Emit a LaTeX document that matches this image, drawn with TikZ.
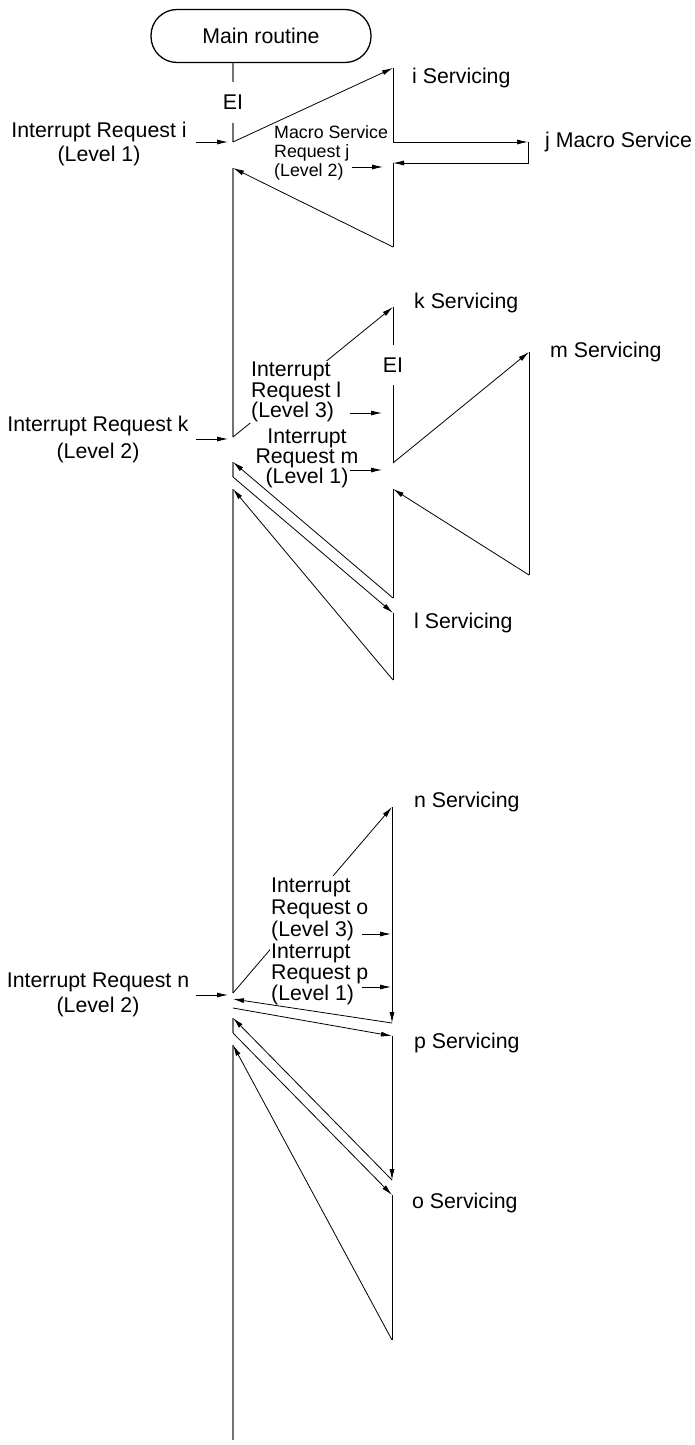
\documentclass[tikz,border=0pt]{standalone}
\usepackage{fontspec}
\setmainfont{Liberation Sans}
\usetikzlibrary{arrows.meta,positioning}

\begin{document}
\begin{tikzpicture}[
  x=1pt, y=-1pt,
  >={Latex[length=11pt,width=5pt]},
  lbl/.style={font=\fontsize{21.3}{24}\selectfont, inner sep=1pt},
  svc/.style={lbl, anchor=west},
  req/.style={lbl, align=center},
  cut/.style={lbl, align=left, anchor=west, fill=white},
  ei/.style={lbl, minimum height=40pt, inner sep=0pt},
  mainline/.style={draw=black!55, line width=1.4pt},
  flow/.style={draw=black, line width=0.8pt}
]
\useasboundingbox (0,0) rectangle (694,1445);

% Main routine
\node[lbl, draw, line width=1.3pt, rounded corners=26pt, minimum width=220pt, minimum height=53pt] (mainbox) at (261,36) {Main routine};
\node[ei] (ei1) at (233,102.5) {EI};

% Points on the main line
\coordinate (ma1) at (233,142);
\coordinate (ma2) at (233,168);
\coordinate (mk1) at (233,437);
\coordinate (mk2) at (233,462);
\coordinate (mk3) at (233,477);
\coordinate (mk4) at (233,489);
\coordinate (mn1) at (233,993);
\coordinate (mn2) at (233,999);
\coordinate (mn3) at (233,1008);
\coordinate (mn4) at (233,1018);
\coordinate (mn5) at (233,1033);
\coordinate (mn6) at (233,1045);
\coordinate (mend) at (233,1440);

% Servicing points
\coordinate (is1) at (393,68);
\coordinate (is2) at (393,142);
\coordinate (jr) at (528,142);
\coordinate (jr2) at (528,163);
\coordinate (is3) at (393,163);
\coordinate (is4) at (393,247);
\coordinate (ks1) at (393,307);
\coordinate (ks2) at (393,463);
\coordinate (ks3) at (393,489);
\coordinate (ks4) at (393,598);
\coordinate (ms1) at (529,352);
\coordinate (ms2) at (529,575);
\coordinate (ls1) at (393,613);
\coordinate (ls2) at (393,680);
\coordinate (ns1) at (392,807);
\coordinate (ns2) at (392,1023);
\coordinate (ps1) at (392,1036);
\coordinate (ps2) at (392,1180);
\coordinate (os1) at (392,1195);
\coordinate (os2) at (392,1340);
\node[ei] (ei2) at (393,365) {EI};

% Request arrow starts
\coordinate (ri) at (196,142);
\coordinate (rj) at (352,167);
\coordinate (rk) at (196,439);
\coordinate (rl) at (350,413);
\coordinate (rm) at (350,470);
\coordinate (rn) at (196,995);
\coordinate (ro) at (362,934);
\coordinate (rp) at (362,987);

% Main line
\draw[mainline] (mainbox.south -| ei1) -- (ei1.north);
\draw[mainline] (ei1.south) -- (ma1);
\draw[mainline] (ma2) -- (mk1);
\draw[mainline] (mk2) -- (mk3);
\draw[mainline] (mk4) -- (mn1);
\draw[mainline] (mn4) -- (mn5);
\draw[mainline] (mn6) -- (mend);

% Lines broken by labels
\draw[flow, ->] (mk1) -- (ks1);
\draw[flow, ->] (mn1) -- (ns1);

% Labels
\node[req] (lbi) at (99,144) {Interrupt Request i\\(Level 1)};
\node[svc] (svi) at (411,78) {i Servicing};
\node[svc] (svj) at (544,142) {j Macro Service};
\node[lbl, align=left, anchor=west, font=\fontsize{17.8}{19}\selectfont] (lbj) at (273,153) {Macro Service\\Request j\\(Level 2)};
\node[req, font=\fontsize{21.3}{27}\selectfont] (lbk) at (98,439) {Interrupt Request k\\(Level 2)};
\node[svc] (svk) at (413,303) {k Servicing};
\node[svc] (svm) at (549,352) {m Servicing};
\node[svc] (svl) at (413,623) {l Servicing};
\node[cut, font=\fontsize{21.3}{20.5}\selectfont] (lbl) at (250,392) {Interrupt\\Request l\\(Level 3)};
\node[req, font=\fontsize{21.3}{20}\selectfont] (lbm) at (307,458) {Interrupt\\Request m\\(Level 1)};
\node[req, font=\fontsize{21.3}{25}\selectfont] (lbn) at (98,995) {Interrupt Request n\\(Level 2)};
\node[svc] (svn) at (413,802) {n Servicing};
\node[cut, font=\fontsize{21.3}{22}\selectfont] (lbo) at (270,909) {Interrupt\\Request o\\(Level 3)};
\node[cut, font=\fontsize{21.3}{21}\selectfont] (lbp) at (270,974) {Interrupt\\Request p\\(Level 1)};
\node[svc] (svp) at (413,1043) {p Servicing};
\node[svc] (svo) at (411,1203) {o Servicing};

% i servicing and j macro service
\draw[flow, ->] (ma1) -- (is1);
\draw[flow] (is1) -- (is2);
\draw[flow, ->] (is2) -- (jr);
\draw[flow, ->] (jr) -- (jr2) -- (is3);
\draw[flow] (is3) -- (is4);
\draw[flow, ->] (is4) -- (ma2);

% k, m and l servicing
\draw[flow] (ks1) -- (ei2.north);
\draw[flow] (ei2.south) -- (ks2);
\draw[flow, ->] (ks2) -- (ms1);
\draw[flow] (ms1) -- (ms2);
\draw[flow, ->] (ms2) -- (ks3);
\draw[flow] (ks3) -- (ks4);
\draw[flow, ->] (ks4) -- (mk2);
\draw[flow, ->] (mk3) -- (ls1);
\draw[flow] (ls1) -- (ls2);
\draw[flow, ->] (ls2) -- (mk4);

% n, p and o servicing
\draw[flow, ->] (ns1) -- (ns2);
\draw[flow, ->] (ns2) -- (mn2);
\draw[flow, ->] (mn3) -- (ps1);
\draw[flow, ->] (ps1) -- (ps2);
\draw[flow, ->] (ps2) -- (mn4);
\draw[flow, ->] (mn5) -- (os1);
\draw[flow] (os1) -- (os2);
\draw[flow, ->] (os2) -- (mn6);

% Request arrows
\draw[flow, ->, shorten >=5pt] (ri) -- (ma1);
\draw[flow, ->, shorten >=10pt] (rj) -- (rj -| is3);
\draw[flow, ->, shorten >=5pt] (rk) -- (rk -| mk1);
\draw[flow, ->, shorten >=11pt] (rl) -- (rl -| ks1);
\draw[flow, ->, shorten >=11pt] (rm) -- (rm -| ks1);
\draw[flow, ->, shorten >=5pt] (rn) -- (rn -| mn1);
\draw[flow, ->, shorten >=1pt] (ro) -- (ro -| ns1);
\draw[flow, ->, shorten >=1pt] (rp) -- (rp -| ns1);

\end{tikzpicture}
\end{document}
